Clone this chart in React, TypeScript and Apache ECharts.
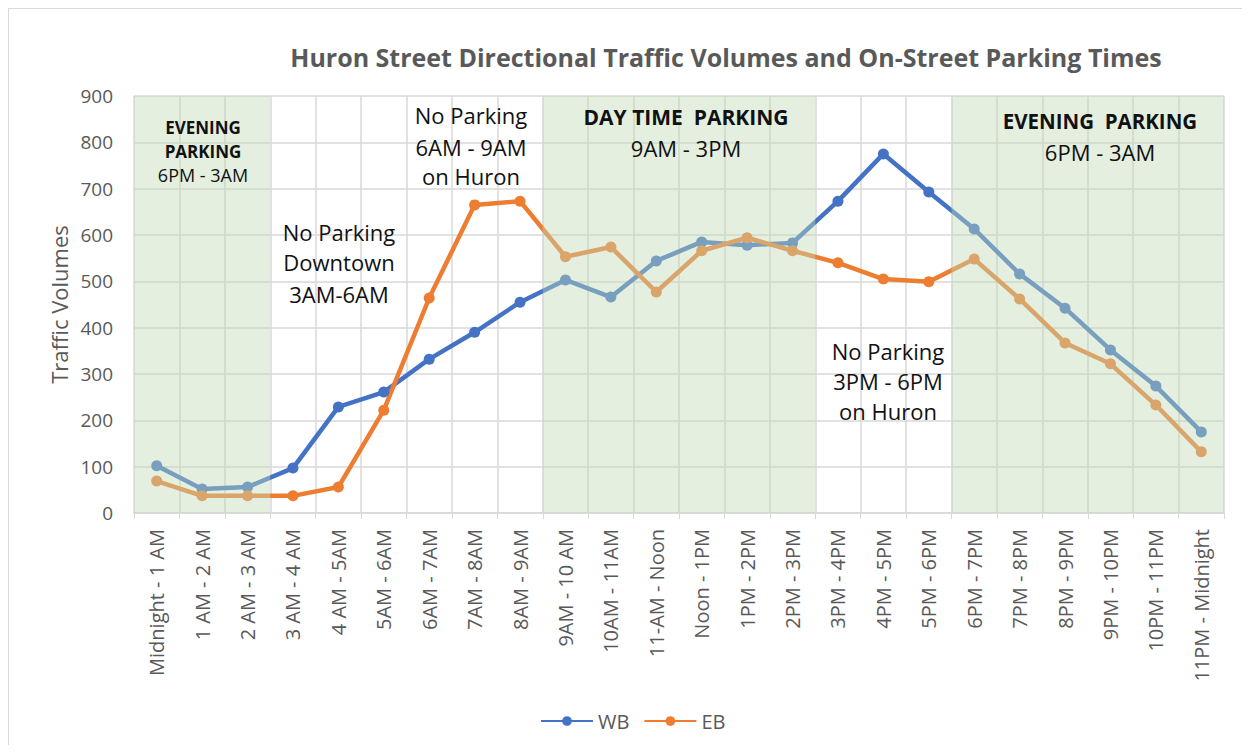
import React, { useEffect, useRef } from "react";
import * as echarts from "echarts";

const categories = [
  "Midnight - 1 AM", "1 AM - 2 AM", "2 AM - 3 AM", "3 AM - 4 AM", "4 AM - 5AM", "5AM - 6AM",
  "6AM - 7AM", "7AM - 8AM", "8AM - 9AM", "9AM - 10 AM", "10AM - 11AM", "11-AM - Noon",
  "Noon - 1PM", "1PM - 2PM", "2PM - 3PM", "3PM - 4PM", "4PM - 5PM", "5PM - 6PM",
  "6PM - 7PM", "7PM - 8PM", "8PM - 9PM", "9PM - 10PM", "10PM - 11PM", "11PM - Midnight",
];

const wbValues = [102, 52, 56, 97, 229, 261, 332, 390, 455, 503, 466, 544, 585, 578, 583, 673, 775, 693, 613, 516, 442, 352, 274, 175];
const ebValues = [69, 37, 37, 37, 56, 222, 464, 665, 673, 553, 574, 477, 566, 594, 566, 540, 505, 499, 548, 462, 367, 322, 233, 132];

// parking zones as category-index boundaries [start, end)
const parkingZones = [[0, 3], [9, 15], [18, 24]];

const yTicks = { min: 0, max: 900, interval: 100 };

const FONT = "'Open Sans', Lato, sans-serif";

export default function App() {
  const ref = useRef<HTMLDivElement>(null);

  useEffect(() => {
    if (!ref.current) return;
    const chart = echarts.init(ref.current, null, { renderer: "svg" });

    const txt = (x: number, y: number, text: string, size: number, bold = false) => ({
      type: "text",
      x,
      y,
      z: 100,
      style: {
        text,
        fontSize: size,
        fontWeight: bold ? "bold" : "normal",
        fontFamily: FONT,
        fill: "#111",
        textAlign: "center",
        textVerticalAlign: "middle",
      },
    });

    chart.setOption({
      animation: false,
      backgroundColor: "#fff",
      textStyle: { fontFamily: FONT },
      grid: { left: 125, top: 87, right: 18, bottom: 232, containLabel: false },
      legend: {
        data: ["WB", "EB"],
        left: 526,
        top: 697,
        itemWidth: 52,
        itemHeight: 12,
        itemGap: 14,
        textStyle: { color: "#595959", fontSize: 20, fontFamily: FONT },
      },
      xAxis: [
        {
          type: "category",
          data: categories,
          boundaryGap: true,
          axisLine: { lineStyle: { color: "#D9D9D9", width: 1.5 } },
          axisTick: { show: true, length: 6, lineStyle: { color: "#D9D9D9" } },
          splitLine: { show: true, lineStyle: { color: "#D9D9D9", width: 1.5 } },
          axisLabel: {
            rotate: 90,
            interval: 0,
            margin: 16,
            color: "#595959",
            fontSize: 20,
            fontFamily: FONT,
          },
        },
        { type: "value", min: 0, max: 24, show: false },
      ],
      yAxis: {
        type: "value",
        min: yTicks.min,
        max: yTicks.max,
        interval: yTicks.interval,
        name: "Traffic Volumes",
        nameLocation: "middle",
        nameGap: 63,
        nameTextStyle: { color: "#595959", fontSize: 22, fontFamily: FONT },
        axisLine: { show: false },
        axisTick: { show: false },
        axisLabel: { color: "#595959", fontSize: 19, margin: 21, fontFamily: FONT },
        splitLine: { lineStyle: { color: "#D9D9D9", width: 1.5 } },
      },
      series: [
        {
          name: "WB",
          type: "line",
          data: wbValues,
          color: "#4472C4",
          symbol: "circle",
          symbolSize: 11,
          lineStyle: { width: 4.5 },
          z: 2,
        },
        {
          name: "EB",
          type: "line",
          data: ebValues,
          color: "#ED7D31",
          symbol: "circle",
          symbolSize: 11,
          lineStyle: { width: 4.5 },
          z: 2,
        },
        {
          name: "zones",
          type: "line",
          xAxisIndex: 1,
          data: [[0, 0]],
          showSymbol: false,
          symbol: "none",
          lineStyle: { width: 0, opacity: 0 },
          silent: true,
          z: 5,
          markArea: {
            silent: true,
            z: 5,
            itemStyle: { color: "rgba(193,219,182,0.43)" },
            data: parkingZones.map(([a, b]) => [{ xAxis: a }, { xAxis: b }]),
          },
        },
      ],
      graphic: [
        {
          type: "text",
          x: 717,
          y: 48,
          z: 100,
          style: {
            text: "Huron Street Directional Traffic Volumes and On-Street Parking Times",
            fontSize: 25,
            fontWeight: "bold",
            fontFamily: FONT,
            fill: "#595959",
            textAlign: "center",
            textVerticalAlign: "middle",
          },
        },
        txt(194, 118, "EVENING", 17, true),
        txt(194, 142, "PARKING", 17, true),
        txt(194, 166, "6PM - 3AM", 18),
        txt(330, 223, "No Parking", 22),
        txt(330, 253, "Downtown", 22),
        txt(330, 285, "3AM-6AM", 22),
        txt(462, 106, "No Parking", 22),
        txt(462, 138, "6AM - 9AM", 22),
        txt(462, 167, "on Huron", 22),
        txt(677, 108, "DAY TIME  PARKING", 21, true),
        txt(677, 139, "9AM - 3PM", 22),
        txt(1091, 112, "EVENING  PARKING", 20.5, true),
        txt(1091, 143, "6PM - 3AM", 22),
        txt(879, 342, "No Parking", 22),
        txt(879, 372, "3PM - 6PM", 22),
        txt(879, 402, "on Huron", 22),
      ],
    });

    return () => chart.dispose();
  }, []);

  return (
    <div style={{ width: 1234, height: 737, borderTop: "1px solid #D9D9D9", borderLeft: "1px solid #D9D9D9", boxSizing: "border-box" }}>
      <div ref={ref} style={{ width: 1233, height: 736 }} />
    </div>
  );
}
